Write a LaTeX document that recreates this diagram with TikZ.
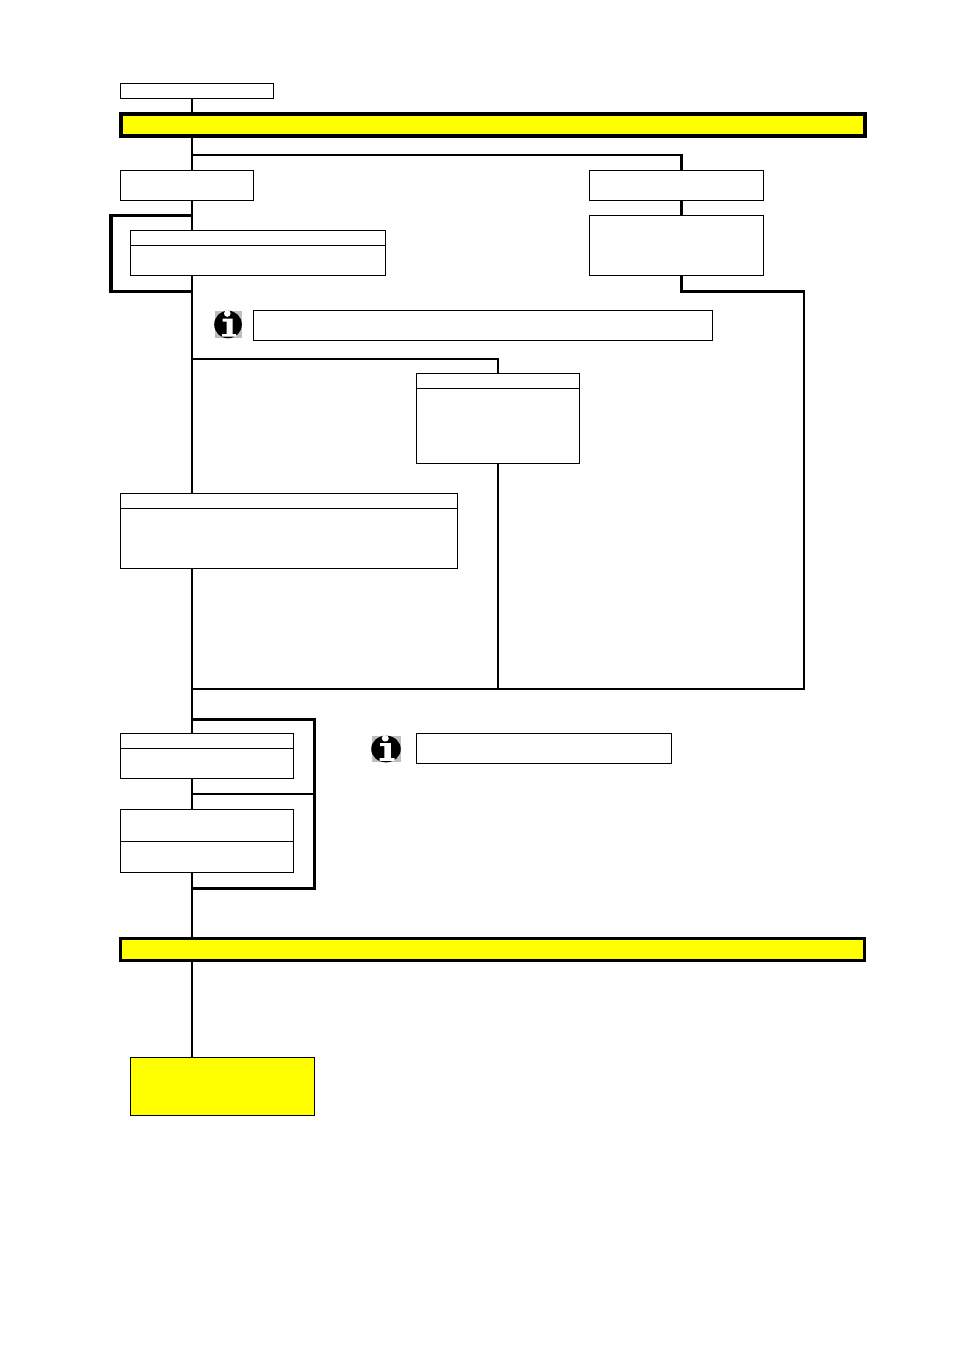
\documentclass[tikz,border=0pt]{standalone}
\definecolor{barfill}{RGB}{255,255,0}
\definecolor{icongray}{RGB}{190,190,190}
\tikzset{
  stepbox/.style={draw,fill=white,line width=1pt,inner sep=0pt,outer sep=0pt},
  barbox/.style={draw,fill=barfill,inner sep=0pt,outer sep=0pt},
  link/.style={line width=2pt},
  boldlink/.style={line width=3pt},
  pics/infoicon/.style={code={
    \fill[icongray] (-13,-13.5) rectangle (14,13.5);
    \fill[black] (0,0) circle (13.8);
    \fill[white] (-0.7,-11) circle (3.3);
    \fill[white] (-5.5,-6) -- (4.5,-6) -- (4.5,9.5) -- (8,9.5) -- (8,12.2) -- (-6,12.2) -- (-6,9.5) -- (-1.5,9.5) -- (-1.5,-3) -- (-5.5,-3) -- cycle;
  }}
}
\begin{document}
\begin{tikzpicture}[x=1pt,y=-1pt]
\useasboundingbox (0,0) rectangle (954,1350);
\coordinate (trunk) at (192,0);
\coordinate (bypassleft) at (111,0);
\coordinate (bypassright) at (314.5,0);
% connectors first, boxes sit on top
\draw[link] (trunk |- 0,98) -- (trunk |- 0,1057);
\draw[link] (trunk |- 0,155) -- (681.5,155);
\draw[boldlink] (681.5,153.5) -- (681.5,215);
\draw[boldlink] (681.5,275) -- (681.5,291.5) -- (803,291.5);
\draw[link] (804,290) -- (804,689) -- (trunk |- 0,689);
\draw[boldlink] (trunk |- 0,215) -- (bypassleft |- 0,215);
\draw[boldlink] (trunk |- 0,291) -- (bypassleft |- 0,291);
\draw[line width=4pt] (bypassleft |- 0,213.5) -- (bypassleft |- 0,292.5);
\draw[link] (trunk |- 0,359) -- (498,359) -- (498,373);
\draw[link] (498,463) -- (498,689);
\draw[boldlink] (trunk |- 0,719) -- (bypassright |- 0,719) -- (bypassright |- 0,888) -- (trunk |- 0,888);
\draw[link] (trunk |- 0,794) -- (bypassright |- 0,794);
% boxes
\node[stepbox,minimum width=153pt,minimum height=15pt] (start) at (197,91) {};
\node[barbox,line width=4pt,minimum width=744pt,minimum height=22pt] (topbar) at (493,125) {};
\node[stepbox,minimum width=133pt,minimum height=30pt] (optleft) at (187,185.5) {};
\node[stepbox,minimum width=255pt,minimum height=15pt] (loophead) at (258,238) {};
\node[stepbox,minimum width=255pt,minimum height=30pt] (loopbody) at (258,260.5) {};
\node[stepbox,minimum width=173.5pt,minimum height=30pt] (optright) at (676.25,185.5) {};
\node[stepbox,minimum width=173.5pt,minimum height=60pt] (optbody) at (676.25,245.5) {};
\node[stepbox,minimum width=459pt,minimum height=30pt] (noteone) at (483,325.5) {};
\node[stepbox,minimum width=163pt,minimum height=15pt] (midhead) at (498,381) {};
\node[stepbox,minimum width=163pt,minimum height=75pt] (midbody) at (498,426) {};
\node[stepbox,minimum width=336.5pt,minimum height=15pt] (widehead) at (288.75,501) {};
\node[stepbox,minimum width=336.5pt,minimum height=60pt] (widebody) at (288.75,538.5) {};
\node[stepbox,minimum width=173.2pt,minimum height=15pt] (lowhead) at (207.1,741) {};
\node[stepbox,minimum width=173.2pt,minimum height=30pt] (lowbody) at (207.1,763.5) {};
\node[stepbox,minimum width=173.2pt,minimum height=32pt] (pairtop) at (207.1,825.5) {};
\node[stepbox,minimum width=173.2pt,minimum height=31pt] (pairbot) at (207.1,857) {};
\node[stepbox,minimum width=255pt,minimum height=30pt] (notetwo) at (544,748.5) {};
\node[barbox,line width=3pt,minimum width=744pt,minimum height=22pt] (lowbar) at (492.5,949.5) {};
\node[barbox,line width=1pt,minimum width=184pt,minimum height=58pt] (finish) at (222.5,1086.5) {};
% info marks
\pic at (228,324.5) {infoicon};
\pic[xscale=1.07,yscale=0.97] at (386,749) {infoicon};
\end{tikzpicture}
\end{document}
